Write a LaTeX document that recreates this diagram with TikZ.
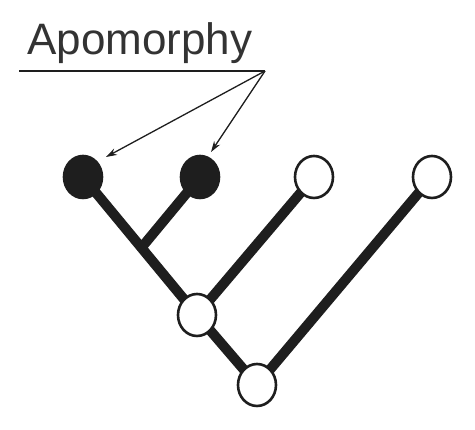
\documentclass[tikz,border=0pt]{standalone}
\usepackage{fontspec}
\setmainfont{Liberation Sans}
\usetikzlibrary{shapes.geometric,arrows.meta}
\pgfdeclarelayer{bg}
\pgfsetlayers{bg,main}
\definecolor{ink}{HTML}{1E1E1E}
\definecolor{txt}{HTML}{333333}
\tikzset{
  leaf/.style={ellipse, draw=ink, line width=2.6pt, minimum width=38pt, minimum height=42pt, inner sep=0pt},
  apo/.style={leaf, fill=ink},
  plain/.style={leaf, fill=white},
  branch/.style={draw=ink, line width=10pt},
  pointer/.style={draw=ink, line width=1.3pt, -{Stealth[length=11pt,width=7pt]}}
}
\begin{document}
\begin{tikzpicture}[x=1pt,y=-1pt]
\useasboundingbox (0,0) rectangle (475,430);
\node[anchor=base west, inner sep=0pt, text=txt, font=\fontsize{44}{48}\selectfont] (lab) at (27,55) {Apomorphy};
\coordinate (ul) at (19,71);
\coordinate (tip) at (265,71);
\draw[draw=ink, line width=1.6pt] (ul) -- (tip);
\node[apo] (a1) at (83,177) {};
\node[apo] (a2) at (200,177) {};
\node[plain] (p3) at (314,177) {};
\node[plain] (p4) at (432,177) {};
\node[plain] (n1) at (197,315) {};
\node[plain] (n2) at (257,385) {};
\coordinate (j) at (142,247);
\begin{pgfonlayer}{bg}
\draw[branch] (a1.center) -- (n1.center);
\draw[branch] (a2.center) -- (j);
\draw[branch] (p3.center) -- (n1.center);
\draw[branch] (n1.center) -- (n2.center);
\draw[branch] (p4.center) -- (n2.center);
\end{pgfonlayer}
\draw[pointer] (tip) -- (106,157);
\draw[pointer] (tip) -- (211,152);
\end{tikzpicture}
\end{document}
